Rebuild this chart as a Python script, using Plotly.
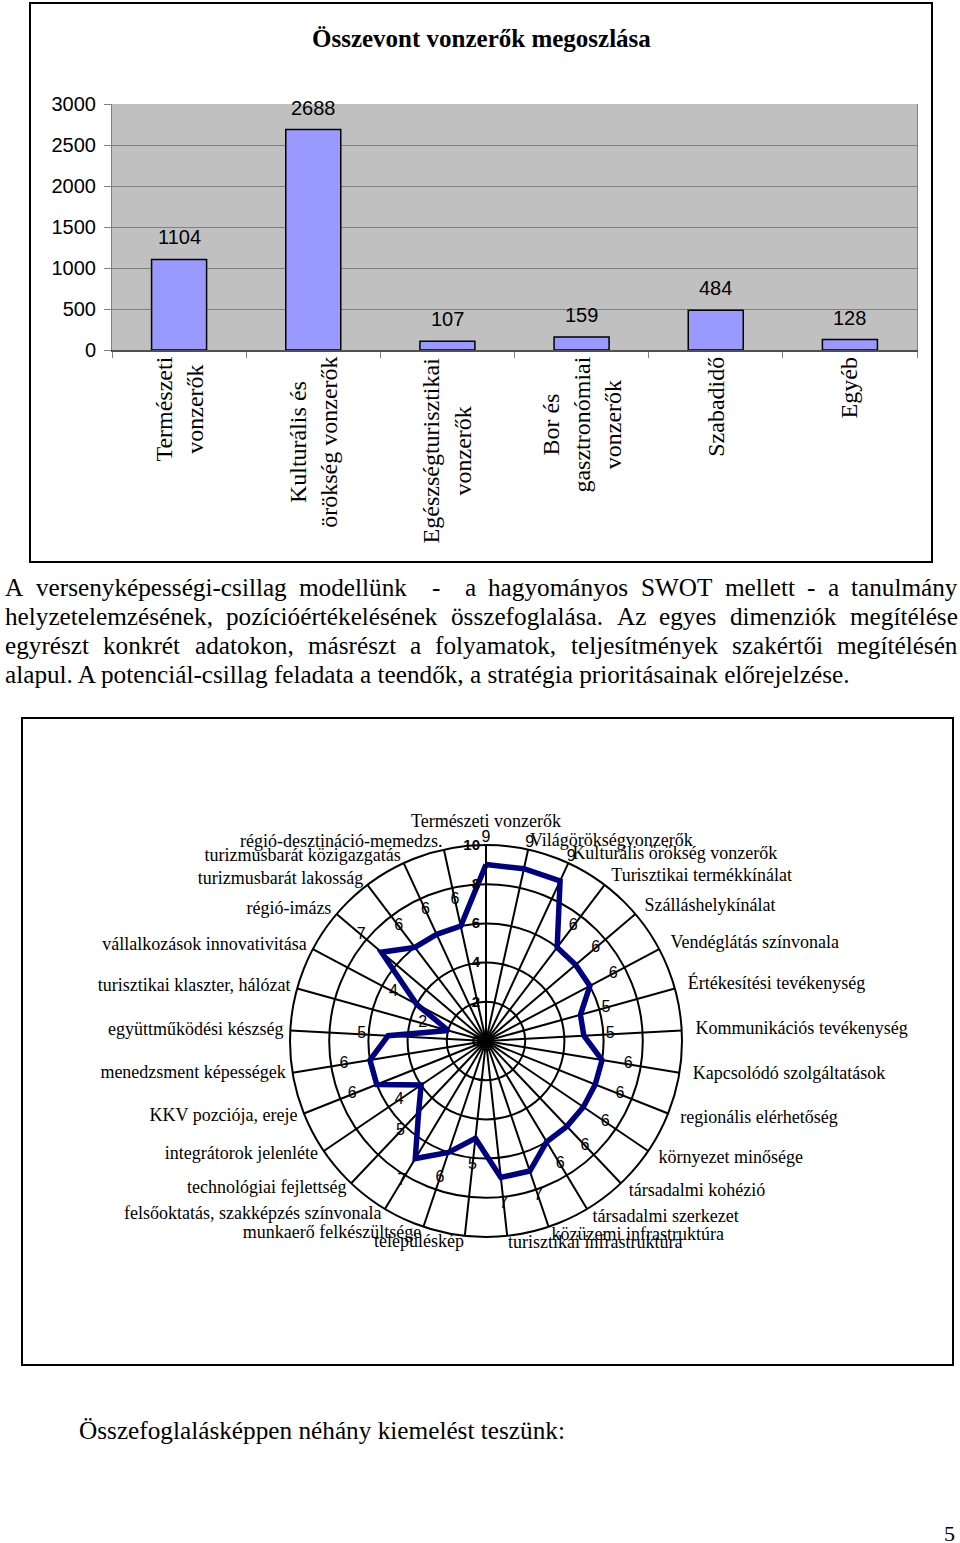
import math
import plotly.graph_objects as go

W, H = 960, 1543

# ---------------- data ----------------
bar_categories = ["Természeti vonzerők", "Kulturális és örökség vonzerők",
                  "Egészségturisztikai vonzerők", "Bor és gasztronómiai vonzerők",
                  "Szabadidő", "Egyéb"]
bar_labels = ["Természeti<br>vonzerők", "Kulturális és<br>örökség vonzerők",
              "Egészségturisztikai<br>vonzerők", "Bor és<br>gasztronómiai<br>vonzerők",
              "Szabadidő", "Egyéb"]
bar_values = [1104, 2688, 107, 159, 484, 128]
bar_ticks = [0, 500, 1000, 1500, 2000, 2500, 3000]

radar_categories = [
    "Természeti vonzerők", "Világörökségvonzerők", "Kulturális örökség vonzerők",
    "Turisztikai termékkínálat", "Szálláshelykínálat", "Vendéglátás színvonala",
    "Értékesítési tevékenység", "Kommunikációs tevékenység", "Kapcsolódó szolgáltatások",
    "regionális elérhetőség", "környezet minősége", "társadalmi kohézió",
    "társadalmi szerkezet", "közüzemi infrastruktúra", "turisztikai infrastruktúra",
    "településkép", "munkaerő felkészültsége", "felsőoktatás, szakképzés színvonala",
    "technológiai fejlettség", "integrátorok jelenléte", "KKV pozciója, ereje",
    "menedzsment képességek", "együttműködési készség", "turisztikai klaszter, hálózat",
    "vállalkozások innovativitása", "régió-imázs", "turizmusbarát lakosság",
    "turizmusbarát közigazgatás", "régió-desztináció-memedzs."]
radar_values = [9, 9, 9, 6, 6, 6, 5, 5, 6, 6, 6, 6, 6, 7, 7,
                5, 6, 7, 5, 4, 6, 6, 5, 2, 4, 7, 6, 6, 6]
radial_ticks = [0, 2, 4, 6, 8, 10]

bar_title = "Összevont vonzerők megoszlása"
paragraph_lines = [
    "A versenyképességi-csillag modellünk  -  a hagyományos SWOT mellett - a tanulmány",
    "helyzetelemzésének, pozícióértékelésének összefoglalása. Az egyes dimenziók megítélése",
    "egyrészt konkrét adatokon, másrészt a folyamatok, teljesítmények szakértői megítélésén",
    "alapul. A potenciál-csillag feladata a teendők, a stratégia prioritásainak előrejelzése.",
]
closing_line = "Összefoglalásképpen néhány kiemelést teszünk:"
page_number = "5"

# ---------------- helpers ----------------
SERIF = "Liberation Serif, Times New Roman, serif"
SANS = "Liberation Sans, Arial, sans-serif"

TIMES = {' ': 250, ',': 250, '-': 333, '.': 250, ':': 278,
         'A': 722, 'Á': 722, 'B': 667, 'C': 667, 'D': 722, 'E': 611, 'É': 611, 'F': 556,
         'G': 722, 'H': 722, 'I': 333, 'K': 722, 'L': 611, 'M': 889, 'N': 722, 'O': 722,
         'Ö': 722, 'P': 556, 'R': 667, 'S': 556, 'T': 611, 'V': 722, 'W': 944, 'Z': 611,
         'a': 444, 'á': 444, 'b': 500, 'c': 444, 'd': 500, 'e': 444, 'é': 444, 'f': 333,
         'g': 500, 'h': 500, 'i': 278, 'í': 278, 'j': 278, 'k': 500, 'l': 278, 'm': 778,
         'n': 500, 'o': 500, 'ó': 500, 'ö': 500, 'ő': 500, 'p': 500, 'r': 333, 's': 389,
         't': 278, 'u': 500, 'ú': 500, 'ü': 500, 'ű': 500, 'v': 500, 'w': 722, 'x': 500,
         'y': 500, 'z': 444}


def tw(s, fs):
    return sum(TIMES.get(c, 500) for c in s) * fs / 1000.0


def px(x):
    return x / W


def py(y):
    return 1 - y / H


annotations = []


def text_ann(text, x, y, font, xanchor="center", yanchor="middle", **kw):
    d = dict(text=text, x=px(x), y=py(y), xref="paper", yref="paper",
             xanchor=xanchor, yanchor=yanchor, showarrow=False, font=font,
             borderpad=0, borderwidth=0)
    d.update(kw)
    annotations.append(d)


# ---------------- figure ----------------
fig = go.Figure()

# Bar chart
fig.add_trace(go.Bar(
    x=bar_categories, y=bar_values, width=0.41,
    marker=dict(color="#9999FF", line=dict(color="black", width=1.5)),
    xaxis="x", yaxis="y", showlegend=False, hoverinfo="skip"))

for c, v in zip(bar_categories, bar_values):
    annotations.append(dict(text=str(v), x=c, y=v, xref="x", yref="y",
                            yanchor="bottom", yshift=11, showarrow=False,
                            borderpad=0, borderwidth=0,
                            font=dict(family=SANS, size=20, color="black")))

axis_bottom = py(350)
for c, lab in zip(bar_categories, bar_labels):
    annotations.append(dict(text=lab, x=c, y=axis_bottom, xref="x", yref="paper",
                            xanchor="center", yanchor="top", yshift=-7,
                            textangle=-90, align="center", showarrow=False,
                            borderpad=0, borderwidth=0,
                            font=dict(family=SERIF, size=24, color="black")))

# Radar chart geometry (pixels): centre and outer-ring radius
cx, cy, R = 486, 1041, 196
r_max = radial_ticks[-1]
r_ext = 1.25 * r_max          # second (invisible) polar with the same px/unit scale
R_ext = R * r_ext / r_max

theta_closed = radar_categories + [radar_categories[0]]
r_closed = radar_values + [radar_values[0]]
fig.add_trace(go.Scatterpolar(
    r=r_closed, theta=theta_closed, mode="lines",
    line=dict(color="#000080", width=5.5), subplot="polar",
    showlegend=False, hoverinfo="skip"))

# data labels, pushed outward from each point
fig.add_trace(go.Scatterpolar(
    r=[v + 1.35 for v in radar_values], theta=radar_categories, mode="text",
    text=[str(v) for v in radar_values], cliponaxis=False,
    textfont=dict(family=SANS, size=16, color="black"), subplot="polar2",
    showlegend=False, hoverinfo="skip"))

# category labels just outside the outer ring
n_cat = len(radar_categories)
label_pos, label_r = [], []
for i in range(n_cat):
    s = math.sin(2 * math.pi * i / n_cat)
    if s > 0.05:
        label_pos.append("middle right")
        label_r.append(r_max + 0.35 + 0.35 * s)
    elif s < -0.05:
        label_pos.append("middle left")
        label_r.append(r_max + 0.35)
    else:
        label_pos.append("top center")
        label_r.append(r_max + 0.7)
fig.add_trace(go.Scatterpolar(
    r=label_r, theta=radar_categories, mode="text",
    text=radar_categories, textposition=label_pos, cliponaxis=False,
    textfont=dict(family=SERIF, size=18, color="black"), subplot="polar2",
    showlegend=False, hoverinfo="skip"))

# Text blocks
text_ann(bar_title, 481, 38, dict(family=SERIF, size=25, color="black", weight="bold"))

fs_par = 848 / tw(paragraph_lines[3], 1.0)
line_y = [587, 616, 645, 674]
x_left, x_right = 5, 958
for i, line in enumerate(paragraph_lines):
    font = dict(family=SERIF, size=fs_par, color="black")
    if i < 3:
        tokens = line.split(" ")
        nsp = len(tokens) - 1
        total = sum(tw(t, fs_par) for t in tokens)
        spw = tw(" ", fs_par)
        extra = (x_right - x_left - total - nsp * spw) / nsp
        x = x_left
        for t in tokens:
            if t:
                text_ann(t, x, line_y[i], font, xanchor="left")
            x += tw(t, fs_par) + spw + extra
    else:
        text_ann(line, x_left, line_y[i], font, xanchor="left")

fs_close = 486 / tw(closing_line, 1.0)
text_ann(closing_line, 79, 1430, dict(family=SERIF, size=fs_close, color="black"), xanchor="left")
text_ann(page_number, 955, 1533, dict(family=SERIF, size=22, color="black"), xanchor="right")

shapes = [
    dict(type="rect", xref="paper", yref="paper", x0=px(30), x1=px(932), y0=py(562), y1=py(3),
         line=dict(color="black", width=2)),
    dict(type="rect", xref="paper", yref="paper", x0=px(22), x1=px(953), y0=py(1365), y1=py(718),
         line=dict(color="black", width=2)),
]

hidden_angular = dict(type="category", categoryarray=radar_categories,
                      direction="clockwise", rotation=90, visible=False)

fig.update_layout(
    width=W, height=H, margin=dict(l=0, r=0, t=0, b=0, autoexpand=False),
    paper_bgcolor="white", plot_bgcolor="#C0C0C0",
    bargap=0.59,
    xaxis=dict(domain=[px(112), px(917)], anchor="y", type="category",
               showticklabels=False, ticks="outside", ticklen=6, tickcolor="#808080",
               tickson="boundaries", showgrid=False, showline=True, automargin=False,
               linecolor="#505050", linewidth=1.5, mirror=False, fixedrange=True),
    yaxis=dict(domain=[py(350), py(104)], anchor="x", range=[0, 3000], automargin=False,
               tickvals=bar_ticks, ticks="outside", ticklen=7, tickcolor="#808080",
               gridcolor="#808080", gridwidth=1, showline=True, linecolor="#808080",
               linewidth=1, mirror=True, zeroline=False, ticklabelstandoff=4,
               tickfont=dict(family=SANS, size=20, color="black")),
    polar=dict(
        domain=dict(x=[px(cx - R), px(cx + R)], y=[py(cy + R), py(cy - R)]),
        bgcolor="white",
        angularaxis=dict(type="category", categoryarray=radar_categories,
                         direction="clockwise", rotation=90, showticklabels=False,
                         showgrid=True, gridcolor="black", gridwidth=1.5,
                         showline=True, linecolor="black", linewidth=2, ticks=""),
        radialaxis=dict(range=[0, r_max], tickvals=radial_ticks, angle=90,
                        side="counterclockwise", tickangle=90,
                        showgrid=True, gridcolor="black", gridwidth=2,
                        showline=True, linecolor="black", linewidth=1.5, ticks="",
                        tickfont=dict(family=SANS, size=15, color="black", weight="bold")),
    ),
    polar2=dict(
        domain=dict(x=[px(cx - R_ext), px(cx + R_ext)], y=[py(cy + R_ext), py(cy - R_ext)]),
        bgcolor="rgba(0,0,0,0)",
        angularaxis=hidden_angular,
        radialaxis=dict(range=[0, r_ext], visible=False),
    ),
    annotations=annotations,
    shapes=shapes,
)

post = ("document.documentElement.style.margin='0';"
        "document.body.style.margin='0';document.body.style.padding='0';"
        "document.documentElement.style.overflow='hidden';"
        "var gd=document.getElementById('{plot_id}');"
        "gd.style.position='absolute';gd.style.top='0px';gd.style.left='0px';")
fig.write_html("out.html", config={"displayModeBar": False}, post_script=post)
